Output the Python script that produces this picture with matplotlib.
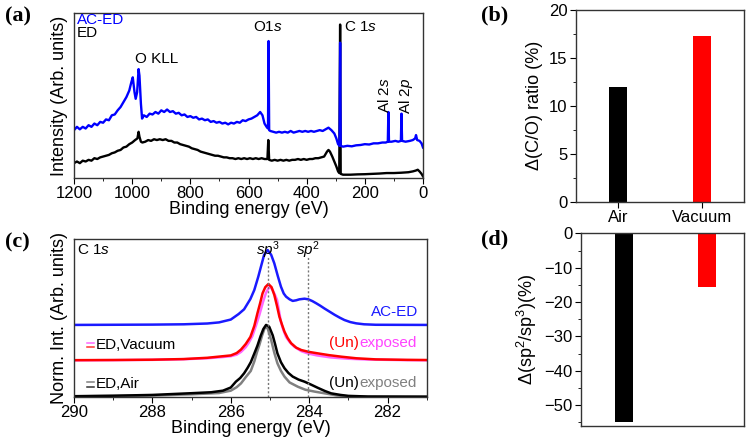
import matplotlib
matplotlib.use('Agg')
import matplotlib.pyplot as plt
from matplotlib.lines import Line2D
from matplotlib.offsetbox import TextArea, HPacker, AnnotationBbox, DrawingArea
from matplotlib.ticker import MultipleLocator
import numpy as np

plt.rcParams['font.family'] = ['Liberation Sans', 'DejaVu Sans']
plt.rcParams['mathtext.fontset'] = 'custom'
plt.rcParams['mathtext.rm'] = 'Liberation Sans'
plt.rcParams['mathtext.it'] = 'Liberation Sans:italic'
plt.rcParams['axes.linewidth'] = 1.0
plt.rcParams['axes.edgecolor'] = '#333333'

# (a) survey spectra, intensity in arbitrary units (0-100 of the axis)
survey_e_aced = [1200, 1190, 1180, 1170, 1160, 1150, 1140, 1130, 1120, 1110, 1100, 1090, 1080,
                 1070, 1060, 1050, 1040, 1030, 1020, 1010, 1003, 998, 992, 988, 983, 978, 975,
                 970, 966, 960, 950, 940, 930, 920, 910, 900, 890, 880, 870, 860, 850, 840, 830,
                 820, 810, 800, 790, 780, 770, 760, 750, 740, 730, 720, 710, 700, 690, 680, 670,
                 660, 650, 640, 630, 620, 610, 600, 590, 580, 570, 560, 552, 545, 538, 533, 531,
                 529, 525, 515, 505, 495, 485, 475, 465, 455, 445, 435, 425, 415, 405, 395, 385,
                 375, 365, 355, 345, 335, 325, 315, 305, 298, 292, 287, 285, 283, 275, 260, 245,
                 230, 215, 200, 185, 170, 155, 140, 128, 121, 119, 117, 108, 95, 85, 76, 74, 72,
                 60, 45, 35, 27, 24, 20, 12, 5, 0]
survey_i_aced = [29, 31, 29.5, 31, 30, 32, 31, 33, 32, 34, 33.5, 35.5, 35,
                 38, 38.5, 41, 43, 46, 49, 53, 58, 61, 52, 48, 52, 66, 62,
                 45, 36, 38, 37, 39, 38.5, 40, 39, 41, 40, 41.5, 40, 40.5, 39, 39.5, 38,
                 38.5, 37, 37.5, 36.5, 37, 35.5, 36, 35, 35.5, 34, 34.5, 33.5, 34, 33, 33.5, 32.5,
                 33.5, 33, 34, 33.5, 35, 34.5, 35.5, 36, 37, 38, 40, 38, 33, 31, 30, 83,
                 29, 28.5, 28, 27.5, 28, 27.5, 28, 27.5, 28.5, 27.5, 28, 28.5, 28, 28.5, 28, 28.5,
                 28, 28.5, 29, 28.5, 29.5, 30.5, 29, 27, 24, 20.5, 19.5, 82, 19.5, 19, 19.5, 19.2,
                 19.8, 20, 20.5, 20.3, 21, 21, 21.5, 21.5, 22, 40, 22, 22, 22.5, 22, 22.5, 39, 22.5,
                 22, 22.5, 23, 24, 26, 23, 22.5, 21, 18.5]

survey_e_ed = [1200, 1190, 1180, 1170, 1160, 1150, 1140, 1130, 1120, 1110, 1100, 1090, 1080,
               1070, 1060, 1050, 1040, 1030, 1020, 1010, 1000, 990, 982, 978, 975, 970, 965,
               955, 945, 935, 925, 915, 905, 895, 885, 875, 865, 855, 845, 835, 825, 815, 805,
               795, 785, 775, 765, 755, 745, 735, 725, 715, 705, 695, 685, 675, 665, 655, 645,
               635, 625, 615, 605, 595, 585, 575, 565, 555, 545, 535, 532, 529, 520, 510, 500,
               490, 480, 470, 460, 450, 440, 430, 420, 410, 400, 390, 380, 370, 360, 350, 340,
               330, 325, 320, 312, 305, 298, 292, 288, 285, 283, 275, 250, 225, 200, 175, 150,
               125, 100, 75, 50, 35, 25, 18, 12, 5, 0]
survey_i_ed = [9, 10, 9, 10.5, 10, 11, 10.5, 12, 11.5, 12.5, 13, 13.5, 14,
               15, 15.5, 16.5, 17, 18.5, 19, 20.5, 21.5, 23, 24, 28, 25, 22, 21.5,
               22, 23, 22.5, 23.5, 23, 23.5, 23, 23.5, 22.5, 22.5, 21.5, 21.5, 20.5, 20, 19.5, 19,
               18, 17.5, 17, 16, 15.5, 15, 14.5, 14, 13.5, 13.5, 13, 12.5, 12.5, 12, 12, 11.5,
               12, 11.5, 12, 11.5, 12, 11.5, 12, 11.5, 12, 11.5, 11.5, 23, 11, 10.5, 11, 10.5,
               11, 10.5, 11, 10.5, 11, 11, 11.5, 11, 11.5, 11, 11.5, 11.5, 12, 12, 12.5, 13,
               16, 17, 16, 13, 10, 7, 4, 3, 93, 2.5, 2, 2, 2.2, 2.3, 2.5, 2.7,
               3, 3, 3.2, 3.5, 4, 4.5, 5, 4, 2.5, 1]

# (b) and (d) bar values
conditions = ['Air', 'Vacuum']
delta_co = [12.0, 17.3]
delta_sp = [-55.0, -15.5]
bar_colors = ['black', 'red']

# (c) C 1s high-resolution spectra (normalized, offset)
c1s_e_aced = [290.0, 289.0, 288.0, 287.2, 286.6, 286.3, 286.0, 285.8, 285.66, 285.5, 285.4, 285.3,
              285.23, 285.15, 285.06, 284.97, 284.89, 284.8, 284.72, 284.65, 284.59, 284.5,
              284.42, 284.33, 284.25, 284.12, 284.02, 283.92, 283.82, 283.72, 283.61, 283.48,
              283.35, 283.22, 283.1, 282.95, 282.8, 282.6, 282.3, 281.0]
c1s_i_aced = [45.6, 45.7, 45.8, 46.0, 46.5, 47.2, 49.0, 52.5, 55.5, 62, 67.7, 76,
              82.5, 89.9, 93, 90, 84.6, 76.5, 69.8, 65.5, 63.5, 61.8,
              60.8, 61.2, 61.8, 62.2, 61.8, 60.7, 59.3, 57.8, 56.0, 54.0,
              52.0, 50.2, 48.7, 47.4, 46.6, 46.0, 45.7, 45.6]

c1s_e_vac_un = [290.0, 289.0, 288.0, 287.2, 286.6, 286.2, 286.0, 285.85, 285.74, 285.62, 285.5,
                285.4, 285.32, 285.25, 285.19, 285.12, 285.04, 284.96, 284.89, 284.82, 284.76,
                284.69, 284.63, 284.55, 284.46, 284.33, 284.2, 284.0, 283.78, 283.5, 283.18,
                282.8, 282.3, 281.5, 281.0]
c1s_i_vac_un = [23.3, 23.4, 23.6, 24.0, 24.8, 25.8, 26.3, 27.8, 30, 33.5, 38,
                45, 53, 59.5, 65.6, 69.5, 71.5, 69.5, 64.6, 57.5, 50.8,
                45.5, 41.3, 37.3, 34, 31.2, 29.7, 28.5, 27.6, 26.5, 25.5,
                24.5, 23.8, 23.5, 23.4]

c1s_e_vac_ex = [290.0, 289.0, 288.0, 287.2, 286.6, 286.2, 286.0, 285.85, 285.74, 285.62, 285.55,
                285.45, 285.36, 285.27, 285.18, 285.1, 285.02, 284.95, 284.88, 284.82, 284.77,
                284.72, 284.66, 284.59, 284.5, 284.38, 284.2, 284.04, 283.8, 283.44, 283.0,
                282.5, 281.5, 281.0]
c1s_i_vac_ex = [23.2, 23.3, 23.5, 23.9, 24.5, 25.3, 25.8, 26.8, 28.5, 31.5, 34,
                38.5, 45, 52, 60, 66, 69.5, 68.5, 65, 61.4, 54.5,
                47.5, 42.5, 38, 34.8, 31.8, 29, 27.6, 26.3, 25, 24.2,
                23.7, 23.3, 23.2]

c1s_e_air_un = [290.0, 289.0, 288.0, 287.0, 286.5, 286.2, 286.0, 285.87, 285.76, 285.66, 285.57,
                285.49, 285.4, 285.32, 285.24, 285.17, 285.1, 285.02, 284.93, 284.87, 284.81,
                284.72, 284.63, 284.53, 284.42, 284.27, 284.12, 283.95, 283.78, 283.6, 283.44,
                283.2, 283.0, 282.5, 281.0]
c1s_i_air_un = [0.5, 0.8, 1.3, 2.4, 3.0, 4.0, 6.0, 9.7, 12, 15, 18.5,
                22, 27.5, 32.5, 38.5, 43, 45.6, 44.5, 39, 33.5, 27.6,
                22, 18.2, 15.2, 12.9, 11, 9.7, 7.8, 5.8, 3.8, 2.3,
                1.3, 0.7, 0.3, 0.2]

c1s_e_air_ex = [290.0, 289.0, 288.0, 287.0, 286.3, 286.0, 285.85, 285.74, 285.62, 285.49, 285.4,
                285.33, 285.27, 285.2, 285.13, 285.06, 284.97, 284.89, 284.81, 284.72, 284.63,
                284.5, 284.29, 284.1, 283.86, 283.6, 283.3, 283.0, 282.5, 281.0]
c1s_i_air_ex = [0.4, 0.6, 0.9, 1.7, 2.5, 4.0, 6.2, 8.6, 12.5, 16.5, 22.5,
                28.5, 33, 39, 44, 43.5, 36, 28, 21.3, 16.5, 12.9,
                9.2, 6.5, 4.6, 3.4, 2.3, 1.0, 0.4, 0.1, 0.1]

sp3_pos = 285.06
sp2_pos = 284.02

fig = plt.figure(figsize=(7.5, 4.45), dpi=100)
ax_a = fig.add_axes([0.0987, 0.600, 0.4653, 0.3708])
ax_b = fig.add_axes([0.768, 0.5467, 0.224, 0.4308])
ax_c = fig.add_axes([0.0987, 0.1079, 0.4703, 0.3551])
ax_d = fig.add_axes([0.7747, 0.0434, 0.2173, 0.4319])

tick_fs = 12
label_fs = 13
note_fs = 11

# ---- (a) survey ----
ax_a.plot(survey_e_ed, survey_i_ed, color='black', lw=1.7)
ax_a.plot(survey_e_aced, survey_i_aced, color='#0000ff', lw=1.7)
ax_a.set_xlim(1200, 0)
ax_a.set_ylim(0, 100)
ax_a.set_yticks([])
ax_a.xaxis.set_major_locator(MultipleLocator(200))
ax_a.xaxis.set_minor_locator(MultipleLocator(100))
ax_a.tick_params(axis='x', which='major', direction='out', length=4, labelsize=tick_fs, pad=2)
ax_a.tick_params(axis='x', which='minor', direction='out', length=2.5)
ax_a.set_xlabel('Binding energy (eV)', fontsize=label_fs, labelpad=0)
ax_a.set_ylabel('Intensity (Arb. units)', fontsize=label_fs, labelpad=4)
ax_a.text(1190, 95.5, 'AC-ED', color='#0000ff', fontsize=note_fs, va='center')
ax_a.text(1190, 87.6, 'ED', color='black', fontsize=note_fs, va='center')
ax_a.text(915, 72, 'O KLL', fontsize=note_fs, ha='center', va='center')
ax_a.text(535, 91.7, 'O1$s$', fontsize=note_fs, ha='center', va='center')
ax_a.text(273, 91.7, 'C 1$s$', fontsize=note_fs, ha='left', va='center')
ax_a.text(134, 50, 'Al 2$s$', fontsize=note_fs, ha='center', va='center', rotation=90)
ax_a.text(59, 50, 'Al 2$p$', fontsize=note_fs, ha='center', va='center', rotation=90)

# ---- (b) C/O ratio change ----
xpos = np.arange(len(conditions))
ax_b.bar(xpos, delta_co, width=0.215, color=bar_colors)
ax_b.set_xlim(-0.5, 1.5)
ax_b.set_ylim(0, 20)
ax_b.set_xticks(xpos)
ax_b.set_xticklabels(conditions)
ax_b.yaxis.set_major_locator(MultipleLocator(5))
ax_b.yaxis.set_minor_locator(MultipleLocator(2.5))
ax_b.tick_params(axis='both', which='major', direction='out', length=4, labelsize=tick_fs, pad=2)
ax_b.tick_params(axis='y', which='minor', direction='out', length=2.5)
ax_b.set_ylabel('Δ(C/O) ratio (%)', fontsize=label_fs, labelpad=4)

# ---- (c) C 1s ----
ax_c.plot(c1s_e_aced, c1s_i_aced, color='#1a1aff', lw=1.8)
ax_c.plot(c1s_e_vac_ex, c1s_i_vac_ex, color='#ff66ff', lw=1.8)
ax_c.plot(c1s_e_vac_un, c1s_i_vac_un, color='#ff0000', lw=1.8)
ax_c.plot(c1s_e_air_ex, c1s_i_air_ex, color='#808080', lw=1.8)
ax_c.plot(c1s_e_air_un, c1s_i_air_un, color='black', lw=1.8)
ax_c.vlines([sp3_pos, sp2_pos], 0, 89, colors='#777777', linestyles=(0, (1.5, 1.5)), lw=1.0)
ax_c.set_xlim(290, 281)
ax_c.set_ylim(0, 100)
ax_c.set_yticks([])
ax_c.xaxis.set_major_locator(MultipleLocator(2))
ax_c.xaxis.set_minor_locator(MultipleLocator(1))
ax_c.tick_params(axis='x', which='major', direction='out', length=4, labelsize=tick_fs, pad=2)
ax_c.tick_params(axis='x', which='minor', direction='out', length=2.5)
ax_c.set_xlabel('Binding energy (eV)', fontsize=label_fs, labelpad=0)
ax_c.set_ylabel('Norm. Int. (Arb. units)', fontsize=label_fs, labelpad=4)
ax_c.text(289.92, 93, 'C 1$s$', fontsize=note_fs, va='center')
ax_c.text(sp3_pos, 93, r'$\mathit{sp}^{\mathrm{3}}$', fontsize=note_fs, ha='center', va='center')
ax_c.text(sp2_pos, 93, r'$\mathit{sp}^{\mathrm{2}}$', fontsize=note_fs, ha='center', va='center')
ax_c.text(281.22, 54, 'AC-ED', color='#1a1aff', fontsize=note_fs, ha='right', va='center')


def mixed(ax, xy, parts, align):
    boxes = []
    for p in parts:
        if isinstance(p, tuple) and p[0] == 'eq':
            da = DrawingArea(6, 8, 0, 0)
            da.add_artist(Line2D([0, 5], [5.2, 5.2], color=p[1], lw=1.1))
            da.add_artist(Line2D([0, 5], [2.2, 2.2], color=p[2], lw=1.1))
            boxes.append(da)
        else:
            boxes.append(TextArea(p[0], textprops=dict(color=p[1], fontsize=note_fs,
                                                       family=['Liberation Sans', 'DejaVu Sans'])))
    pack = HPacker(children=boxes, align='center', pad=0, sep=0)
    ab = AnnotationBbox(pack, xy, xycoords='data', box_alignment=(align, 0.5),
                        frameon=False, pad=0)
    ax.add_artist(ab)


mixed(ax_c, (289.66, 33), [('eq', '#ff66ff', '#ff3333'), ('ED,Vacuum', 'black')], 0)
mixed(ax_c, (281.26, 34), [('(Un)', '#ff0000'), ('exposed', '#ff44ff')], 1)
mixed(ax_c, (289.66, 8.2), [('eq', '#808080', '#333333'), ('ED,Air', 'black')], 0)
mixed(ax_c, (281.26, 8.9), [('(Un)', 'black'), ('exposed', '#808080')], 1)

# ---- (d) sp2/sp3 change ----
ax_d.bar(xpos, delta_sp, width=0.218, color=bar_colors)
ax_d.set_xlim(-0.52, 1.45)
ax_d.set_ylim(-56, 0)
ax_d.set_xticks([])
ax_d.yaxis.set_major_locator(MultipleLocator(10))
ax_d.yaxis.set_minor_locator(MultipleLocator(5))
ax_d.tick_params(axis='y', which='major', direction='out', length=4, labelsize=tick_fs, pad=2)
ax_d.tick_params(axis='y', which='minor', direction='out', length=2.5)
ax_d.set_ylabel('Δ(sp$^2$/sp$^3$)(%)', fontsize=label_fs, labelpad=4)

# panel labels
for lab, x, y in [('(a)', 0.007, 0.962), ('(b)', 0.641, 0.966), ('(c)', 0.007, 0.456), ('(d)', 0.641, 0.461)]:
    fig.text(x, y, lab, fontsize=16, fontweight='bold', family='Liberation Serif', va='center')

fig.savefig('out.png', dpi=100)
